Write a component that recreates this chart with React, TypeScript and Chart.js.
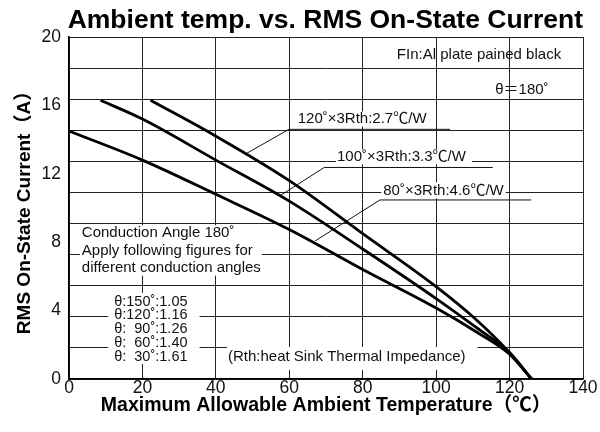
import React, { useEffect, useRef } from 'react';
import { Chart, registerables } from 'chart.js';

Chart.register(...registerables);

// ---- axis ticks ----
const xTickValues = [0, 20, 40, 60, 80, 100, 120, 140];
const yLabelValues = [0, 4, 8, 12, 16, 20];
const yGridIntervals = 11; // the original grid has 11 rows between 0 and 20

// ---- curves (ambient temperature °C -> RMS on-state current A) ----
const temp80 = [0, 20, 40, 60, 80, 100, 111, 120, 126];
const cur80 = [14.5, 12.8, 10.8, 8.74, 6.4, 4.15, 2.75, 1.45, 0];

const temp100 = [8.6, 20, 40, 60, 80, 100, 111, 120, 126];
const cur100 = [16.3, 15.2, 12.8, 10.4, 7.6, 4.7, 3.0, 1.55, 0];

const temp120 = [22.2, 40, 60, 80, 100, 111, 119.3, 126];
const cur120 = [16.3, 14.2, 11.6, 8.5, 5.4, 3.45, 1.7, 0];

// ---- leader lines from labels to curves ----
const lead120X = [48.1, 59.9, 103.8];
const lead120Y = [13.16, 14.6, 14.6];
const lead100X = [57.5, 69.5, 115.4];
const lead100Y = [10.72, 12.37, 12.37];
const lead80X = [67.0, 84.7, 125.9];
const lead80Y = [8.07, 10.47, 10.47];

// ---- texts ----
const titleText = 'Ambient temp. vs. RMS On-State Current';
const xTitle = 'Maximum Allowable Ambient Temperature（℃）';
const yTitle = 'RMS On-State Current（A）';
const finText = ['FIn:Al plate pained black'];
const thetaText = ['θ＝180˚'];
const label120 = ['120˚×3Rth:2.7℃/W'];
const label100 = ['100˚×3Rth:3.3℃/W'];
const label80 = ['80˚×3Rth:4.6℃/W'];
const conductionText = ['Conduction Angle 180˚', 'Apply following figures for', 'different conduction angles'];
const angleFactors = ['θ:150˚:1.05', 'θ:120˚:1.16', 'θ:  90˚:1.26', 'θ:  60˚:1.40', 'θ:  30˚:1.61'];
const rthText = ['(Rth:heat Sink Thermal Impedance)'];

const FONT = "'Liberation Sans', 'Noto Sans CJK JP', sans-serif";
const TICK_FONT = "'Liberation Sans Narrow', 'Liberation Sans', sans-serif";

type Note = {
  lines: string[]; x: number; y: number; size: number; lineH: number;
  bg?: [number, number, number, number]; // padL, padR, padT, padB
};

const notes: Note[] = [
  { lines: finText, x: 89.3, y: 18.95, size: 15, lineH: 16 },
  { lines: thetaText, x: 116.1, y: 16.9, size: 15, lineH: 16 },
  { lines: label120, x: 62.3, y: 15.2, size: 15, lineH: 15, bg: [1, 1, 0, 0] },
  { lines: label100, x: 73.0, y: 13.0, size: 15, lineH: 15, bg: [1, 6, 0, 0] },
  { lines: label80, x: 85.6, y: 11.0, size: 15, lineH: 15, bg: [2, 2, 1, 0] },
  { lines: conductionText, x: 3.5, y: 8.54, size: 15, lineH: 17.5, bg: [2, 1, -1, -1] },
  { lines: angleFactors, x: 12.3, y: 4.52, size: 14.5, lineH: 13.75, bg: [6, 12, 2, 0.5] },
  { lines: rthText, x: 43.3, y: 1.29, size: 15, lineH: 16, bg: [1, 12, 2, 5] },
];

const notePlugin = {
  id: 'notes',
  beforeDatasetsDraw(chart: any) {
    const { ctx, scales } = chart;
    const xs = scales.x, ys = scales.y;
    ctx.save();
    for (const n of notes) {
      ctx.font = `${n.size}px ${FONT}`;
      const px = xs.getPixelForValue(n.x);
      const py = ys.getPixelForValue(n.y);
      if (n.bg) {
        const w = Math.max(...n.lines.map((l) => ctx.measureText(l).width));
        const [pl, pr, pt, pb] = n.bg;
        ctx.fillStyle = '#ffffff';
        ctx.fillRect(px - pl, py - n.lineH / 2 - pt, w + pl + pr, n.lines.length * n.lineH + pt + pb);
      }
      ctx.fillStyle = '#111';
      ctx.textAlign = 'left';
      ctx.textBaseline = 'middle';
      n.lines.forEach((l, i) => ctx.fillText(l, px, py + i * n.lineH));
    }
    ctx.restore();
  },
};

const toPts = (xs: number[], ys: number[]) => xs.map((x, i) => ({ x, y: ys[i] }));

const near = (a: number, b: number) => Math.abs(a - b) < 1e-6;
const yGridValues = Array.from({ length: yGridIntervals + 1 }, (_, k) => (k * 20) / yGridIntervals);
const isGrid = (v: number) => yGridValues.some((g) => near(g, v));
const isLabel = (v: number) => yLabelValues.some((g) => near(g, v));

export default function App() {
  const ref = useRef<HTMLCanvasElement | null>(null);
  useEffect(() => {
    if (!ref.current) return;
    const curve = (xs: number[], ys: number[]) => ({
      data: toPts(xs, ys),
      borderColor: '#000',
      borderWidth: 2.8,
      pointRadius: 0,
      fill: false,
      cubicInterpolationMode: 'monotone' as const,
    });
    const lead = (xs: number[], ys: number[]) => ({
      data: toPts(xs, ys),
      borderColor: '#111',
      borderWidth: 1,
      pointRadius: 0,
      fill: false,
      tension: 0,
    });
    const chart = new Chart(ref.current, {
      type: 'line',
      data: {
        datasets: [
          curve(temp80, cur80),
          curve(temp100, cur100),
          curve(temp120, cur120),
          lead(lead120X, lead120Y),
          lead(lead100X, lead100Y),
          lead(lead80X, lead80Y),
        ],
      },
      options: {
        responsive: false,
        animation: false,
        layout: { padding: { left: 0, right: 17, top: 0, bottom: 0 } },
        plugins: {
          legend: { display: false },
          tooltip: { enabled: false },
          title: {
            display: true,
            text: titleText,
            align: 'end',
            color: '#000',
            font: { family: FONT, size: 26.5, weight: 'bold', lineHeight: 1.2 },
            padding: { top: 5.2, bottom: 0 },
          },
        },
        scales: {
          x: {
            type: 'linear',
            min: 0,
            max: 140,
            afterBuildTicks: (s: any) => { s.ticks = xTickValues.map((v) => ({ value: v })); },
            afterFit: (s: any) => { s.height = 53; },
            grid: { color: '#222', lineWidth: 1, drawTicks: false },
            border: { color: '#000', width: 1.5 },
            ticks: {
              color: '#111',
              padding: 0,
              autoSkip: false,
              maxRotation: 0,
              font: { family: TICK_FONT, size: 17.5, lineHeight: 1 },
            },
            title: {
              display: true,
              text: xTitle,
              color: '#000',
              font: { family: FONT, size: 19.5, weight: 'bold', lineHeight: 1.2 },
              padding: { top: 0, bottom: 14.3 },
            },
          },
          y: {
            type: 'linear',
            min: 0,
            max: 20,
            afterBuildTicks: (s: any) => {
              const vals = [...yGridValues];
              yLabelValues.forEach((v) => { if (!isGrid(v)) vals.push(v); });
              vals.sort((a, b) => a - b);
              s.ticks = vals.map((v) => ({ value: v }));
            },
            afterFit: (s: any) => { s.width = 69; },
            grid: {
              color: (c: any) => (c.tick && isGrid(c.tick.value) ? '#222' : 'rgba(0,0,0,0)'),
              lineWidth: 1,
              drawTicks: false,
            },
            border: { color: '#000', width: 1.5 },
            ticks: {
              color: '#111',
              padding: 8,
              autoSkip: false,
              font: { family: TICK_FONT, size: 17.5, lineHeight: 1 },
              callback: (v: any) => (isLabel(Number(v)) ? String(Math.round(Number(v))) : ''),
            },
            title: {
              display: true,
              text: yTitle,
              color: '#000',
              font: { family: FONT, size: 19, weight: 'bold', lineHeight: 1.2 },
              padding: { top: 13, bottom: 0 },
            },
          },
        },
      },
      plugins: [notePlugin],
    });
    return () => chart.destroy();
  }, []);
  return (
    <div style={{ position: 'fixed', left: 0, top: 0, width: 600, height: 432, background: '#fff' }}>
      <canvas ref={ref} width={600} height={432} />
    </div>
  );
}
